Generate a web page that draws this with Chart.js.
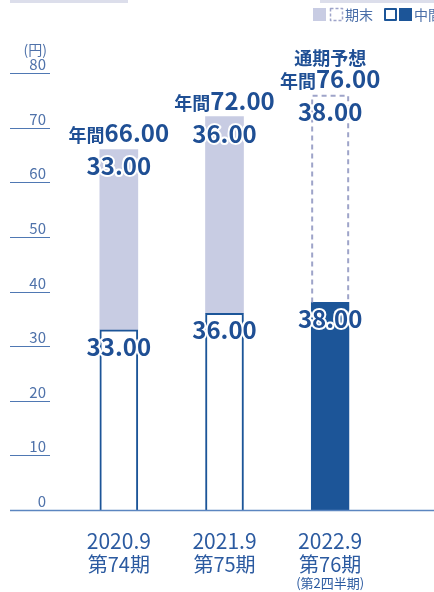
<!DOCTYPE html>
<html lang="ja">
<head>
<meta charset="utf-8">
<script src="https://cdn.jsdelivr.net/npm/chart.js@4.4.0/dist/chart.umd.min.js"></script>
<style>
html, body { margin: 0; padding: 0; background: #fff; }
#wrap { position: relative; width: 434px; height: 592px; overflow: hidden; }
#dividendChart { position: absolute; left: 0; top: 0; }
.strip { position: absolute; top: 0; height: 3px; background: #dcdeeb; }
</style>
</head>
<body>
<div id="wrap">
  <canvas id="dividendChart" width="434" height="592"></canvas>
  <div class="strip" style="left:10px;width:118px"></div>
  <div class="strip" style="left:320px;width:114px"></div>
</div>
<script>
// 1株当たり配当金（円）
var periods = ['2020.9', '2021.9', '2022.9'];
var terms = ['第74期', '第75期', '第76期'];
var notes = ['', '', '(第2四半期)'];
var interim = [33, 36, 38];
var yearEnd = [33, 36, 38];
var forecast = [false, false, true];
var yTicks = [0, 10, 20, 30, 40, 50, 60, 70, 80];

var NAVY = '#1c5598';
var LAVENDER = '#c8cce3';
var DASH = '#9ea4c9';
var TEXT = '#1f4f94';
var AXIS = '#4f78b3';
var FONT = '"Noto Sans CJK JP", "Noto Sans", sans-serif';

function outlined(ctx, text, x, y) {
    ctx.lineJoin = 'round';
    ctx.lineWidth = 4;
    ctx.strokeStyle = '#fff';
    ctx.strokeText(text, x, y);
    ctx.fillText(text, x, y);
}

var dividendPlugin = {
    id: 'dividendPlugin',
    beforeDatasetsDraw: function (chart) {
        var ctx = chart.ctx;
        var y = chart.scales.y;
        ctx.save();
        // 目盛り
        ctx.strokeStyle = AXIS;
        ctx.lineWidth = 1.2;
        ctx.fillStyle = '#4f72aa';
        ctx.textAlign = 'right';
        ctx.textBaseline = 'alphabetic';
        ctx.font = '15px ' + FONT;
        yTicks.forEach(function (t) {
            var py = Math.round(y.getPixelForValue(t)) + 0.5;
            if (t > 0) {
                ctx.beginPath();
                ctx.moveTo(10, py);
                ctx.lineTo(50, py);
                ctx.stroke();
            }
            ctx.fillText(String(t), 46, py - 4);
        });
        ctx.font = '14px ' + FONT;
        ctx.fillText('(円)', 47, y.getPixelForValue(80) - 18);
        ctx.restore();
    },
    afterDatasetsDraw: function (chart) {
        var ctx = chart.ctx;
        var x = chart.scales.x;
        var y = chart.scales.y;
        var mInt = chart.getDatasetMeta(0);
        var mEnd = chart.getDatasetMeta(1);
        ctx.save();

        // 基準線
        var base = Math.round(y.getPixelForValue(0)) + 0.5;
        ctx.strokeStyle = '#5b86c0';
        ctx.lineWidth = 1.5;
        ctx.beginPath();
        ctx.moveTo(10, base);
        ctx.lineTo(434, base);
        ctx.stroke();

        // 予想分は点線の枠
        mEnd.data.forEach(function (el, i) {
            if (!forecast[i]) return;
            var l = el.x - el.width / 2 + 1, r = el.x + el.width / 2 - 1;
            ctx.strokeStyle = DASH;
            ctx.lineWidth = 2;
            ctx.setLineDash([5, 4]);
            ctx.beginPath();
            ctx.moveTo(l, el.base);
            ctx.lineTo(l, el.y + 1);
            ctx.lineTo(r, el.y + 1);
            ctx.lineTo(r, el.base);
            ctx.stroke();
            ctx.setLineDash([]);
        });

        // 各棒の金額
        ctx.fillStyle = TEXT;
        ctx.textAlign = 'center';
        ctx.textBaseline = 'alphabetic';
        ctx.font = 'bold 24px ' + FONT;
        [mInt, mEnd].forEach(function (meta, d) {
            var vals = d === 0 ? interim : yearEnd;
            meta.data.forEach(function (el, i) {
                outlined(ctx, vals[i].toFixed(2), el.x, el.y + 26);
            });
        });

        // 年間合計
        mEnd.data.forEach(function (el, i) {
            var total = (interim[i] + yearEnd[i]).toFixed(2);
            var by = el.y - 7;
            ctx.font = 'bold 18px ' + FONT;
            var w1 = ctx.measureText('年間').width;
            ctx.font = 'bold 24px ' + FONT;
            var w2 = ctx.measureText(total).width;
            var sx = el.x - (w1 + w2) / 2;
            ctx.textAlign = 'left';
            ctx.font = 'bold 18px ' + FONT;
            outlined(ctx, '年間', sx, by);
            ctx.font = 'bold 24px ' + FONT;
            outlined(ctx, total, sx + w1, by);
            if (forecast[i]) {
                ctx.textAlign = 'center';
                ctx.font = 'bold 18px ' + FONT;
                outlined(ctx, '通期予想', el.x, el.y - 30);
            }
            ctx.textAlign = 'center';
        });

        // 横軸ラベル
        ctx.fillStyle = '#2b5aa0';
        periods.forEach(function (p, i) {
            var px = x.getPixelForValue(i);
            ctx.font = '21px ' + FONT;
            ctx.fillText(p, px, 549);
            ctx.font = '20px ' + FONT;
            ctx.fillText(terms[i], px, 572);
            if (notes[i]) {
                ctx.font = '13px ' + FONT;
                ctx.fillText(notes[i], px, 588);
            }
        });

        // 凡例
        ctx.fillStyle = LAVENDER;
        ctx.fillRect(313, 8, 13, 13);
        ctx.strokeStyle = DASH;
        ctx.lineWidth = 1.5;
        ctx.setLineDash([3, 2]);
        ctx.strokeRect(330.5, 8.5, 12, 12);
        ctx.setLineDash([]);
        ctx.strokeStyle = NAVY;
        ctx.lineWidth = 2;
        ctx.strokeRect(385, 9, 11, 11);
        ctx.fillStyle = NAVY;
        ctx.fillRect(399, 8, 13, 13);
        ctx.fillStyle = '#4a6ea8';
        ctx.textAlign = 'left';
        ctx.font = '14px ' + FONT;
        ctx.fillText('期末', 345, 20);
        ctx.fillText('中間', 414, 20);

        ctx.restore();
    }
};

new Chart(document.getElementById('dividendChart').getContext('2d'), {
    type: 'bar',
    data: {
        labels: periods,
        datasets: [{
            label: '中間',
            data: interim,
            backgroundColor: forecast.map(function (f) { return f ? NAVY : '#fff'; }),
            borderColor: NAVY,
            borderWidth: 2,
            borderSkipped: 'start'
        }, {
            label: '期末',
            data: yearEnd,
            backgroundColor: forecast.map(function (f) { return f ? 'rgba(0,0,0,0)' : LAVENDER; }),
            borderWidth: 0
        }]
    },
    options: {
        responsive: false,
        animation: false,
        layout: { padding: { left: 66, right: 51, top: 73, bottom: 82 } },
        datasets: { bar: { barThickness: 38 } },
        plugins: { legend: { display: false }, tooltip: { enabled: false } },
        scales: {
            x: { display: false, stacked: true },
            y: { display: false, stacked: true, min: 0, max: 80 }
        }
    },
    plugins: [dividendPlugin]
});
</script>
</body>
</html>
